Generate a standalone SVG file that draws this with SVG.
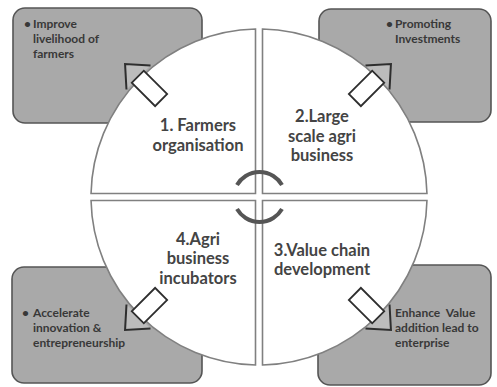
<svg xmlns="http://www.w3.org/2000/svg" width="497" height="387" viewBox="0 0 497 387">
<style>
.box{fill:#a9a9a9;stroke:#555;stroke-width:1.6}
.quad{fill:#fff;stroke:#808080;stroke-width:1.6}
.head{fill:#bcbcbc;stroke:#2e2e2e;stroke-width:2}
.shaft{fill:#fff;stroke:#2e2e2e;stroke-width:1.8}
.cyc{fill:none;stroke:#555;stroke-width:4}
.lbl{font-family:Lato,"Liberation Sans",sans-serif;font-weight:bold;font-size:16.5px;fill:#444;text-anchor:middle}
.note{font-family:Lato,"Liberation Sans",sans-serif;font-weight:bold;font-size:12px;fill:#383838;white-space:pre}
</style>
<rect width="497" height="387" fill="#fff"/>
<g id="box-tl"><rect class="box" x="13" y="8" width="189" height="115" rx="12"/>
<text class="note" x="24" y="28">•</text><text class="note" x="33" y="28">Improve</text><text class="note" x="33" y="43">livelihood of</text><text class="note" x="33" y="58">farmers</text></g>
<g id="box-tr"><rect class="box" x="319" y="9" width="172" height="113" rx="12"/>
<text class="note" x="386" y="28">•</text><text class="note" x="395" y="28">Promoting</text><text class="note" x="395" y="43">Investments</text></g>
<g id="box-bl"><rect class="box" x="12" y="267" width="190" height="116" rx="12"/>
<text class="note" x="22" y="317">•</text><text class="note" x="33" y="317">Accelerate</text><text class="note" x="33" y="332">innovation &amp;</text><text class="note" x="33" y="347">entrepreneurship</text></g>
<g id="box-br"><rect class="box" x="318" y="265" width="173" height="120" rx="12"/>
<text class="note" x="395" y="317">Enhance  Value</text><text class="note" x="395" y="332">addition lead to</text><text class="note" x="395" y="347">enterprise</text></g>
<g id="connectors">
<path class="head" transform="translate(258,197) rotate(-135)" d="M169,-17 L188,0 L169,17"/>
<path class="head" transform="translate(258,197) rotate(-45)" d="M169,-17 L188,0 L169,17"/>
<path class="head" transform="translate(258,197) rotate(135)" d="M169,-17 L188,0 L169,17"/>
<path class="head" transform="translate(258,197) rotate(45)" d="M169,-17 L188,0 L169,17"/>
</g>
<g id="q1"><path class="quad" d="M255.5,193.5 L255.5,29.04 A168,168 0 0 0 91.04,193.5 Z"/>
<text class="lbl" x="198" y="131">1. Farmers</text><text class="lbl" x="198" y="151">organisation</text></g>
<g id="q2"><path class="quad" d="M262.5,193.5 L262.5,29.04 A168,168 0 0 1 426.96,193.5 Z"/>
<text class="lbl" x="322" y="122">2.Large</text><text class="lbl" x="322" y="142">scale agri</text><text class="lbl" x="322" y="161">business</text></g>
<g id="q3"><path class="quad" d="M262.5,200.5 L426.96,200.5 A168,168 0 0 1 262.5,364.96 Z"/>
<text class="lbl" x="322" y="256">3.Value chain</text><text class="lbl" x="322" y="275">development</text></g>
<g id="q4"><path class="quad" d="M255.5,200.5 L255.5,364.96 A168,168 0 0 1 91.04,200.5 Z"/>
<text class="lbl" x="198" y="245">4.Agri</text><text class="lbl" x="198" y="264">business</text><text class="lbl" x="198" y="284">incubators</text></g>
<g id="shafts">
<rect class="shaft" transform="translate(258,197) rotate(-135)" x="137" y="-8.5" width="33" height="17"/>
<rect class="shaft" transform="translate(258,197) rotate(-45)" x="137" y="-8.5" width="33" height="17"/>
<rect class="shaft" transform="translate(258,197) rotate(135)" x="137" y="-8.5" width="33" height="17"/>
<rect class="shaft" transform="translate(258,197) rotate(45)" x="137" y="-8.5" width="33" height="17"/>
</g>
<g id="cycle">
<path class="cyc" d="M237,185 A26,26 0 0 1 282,185"/>
<path class="cyc" d="M282,209 A26,26 0 0 1 237,209"/>
</g>
</svg>
